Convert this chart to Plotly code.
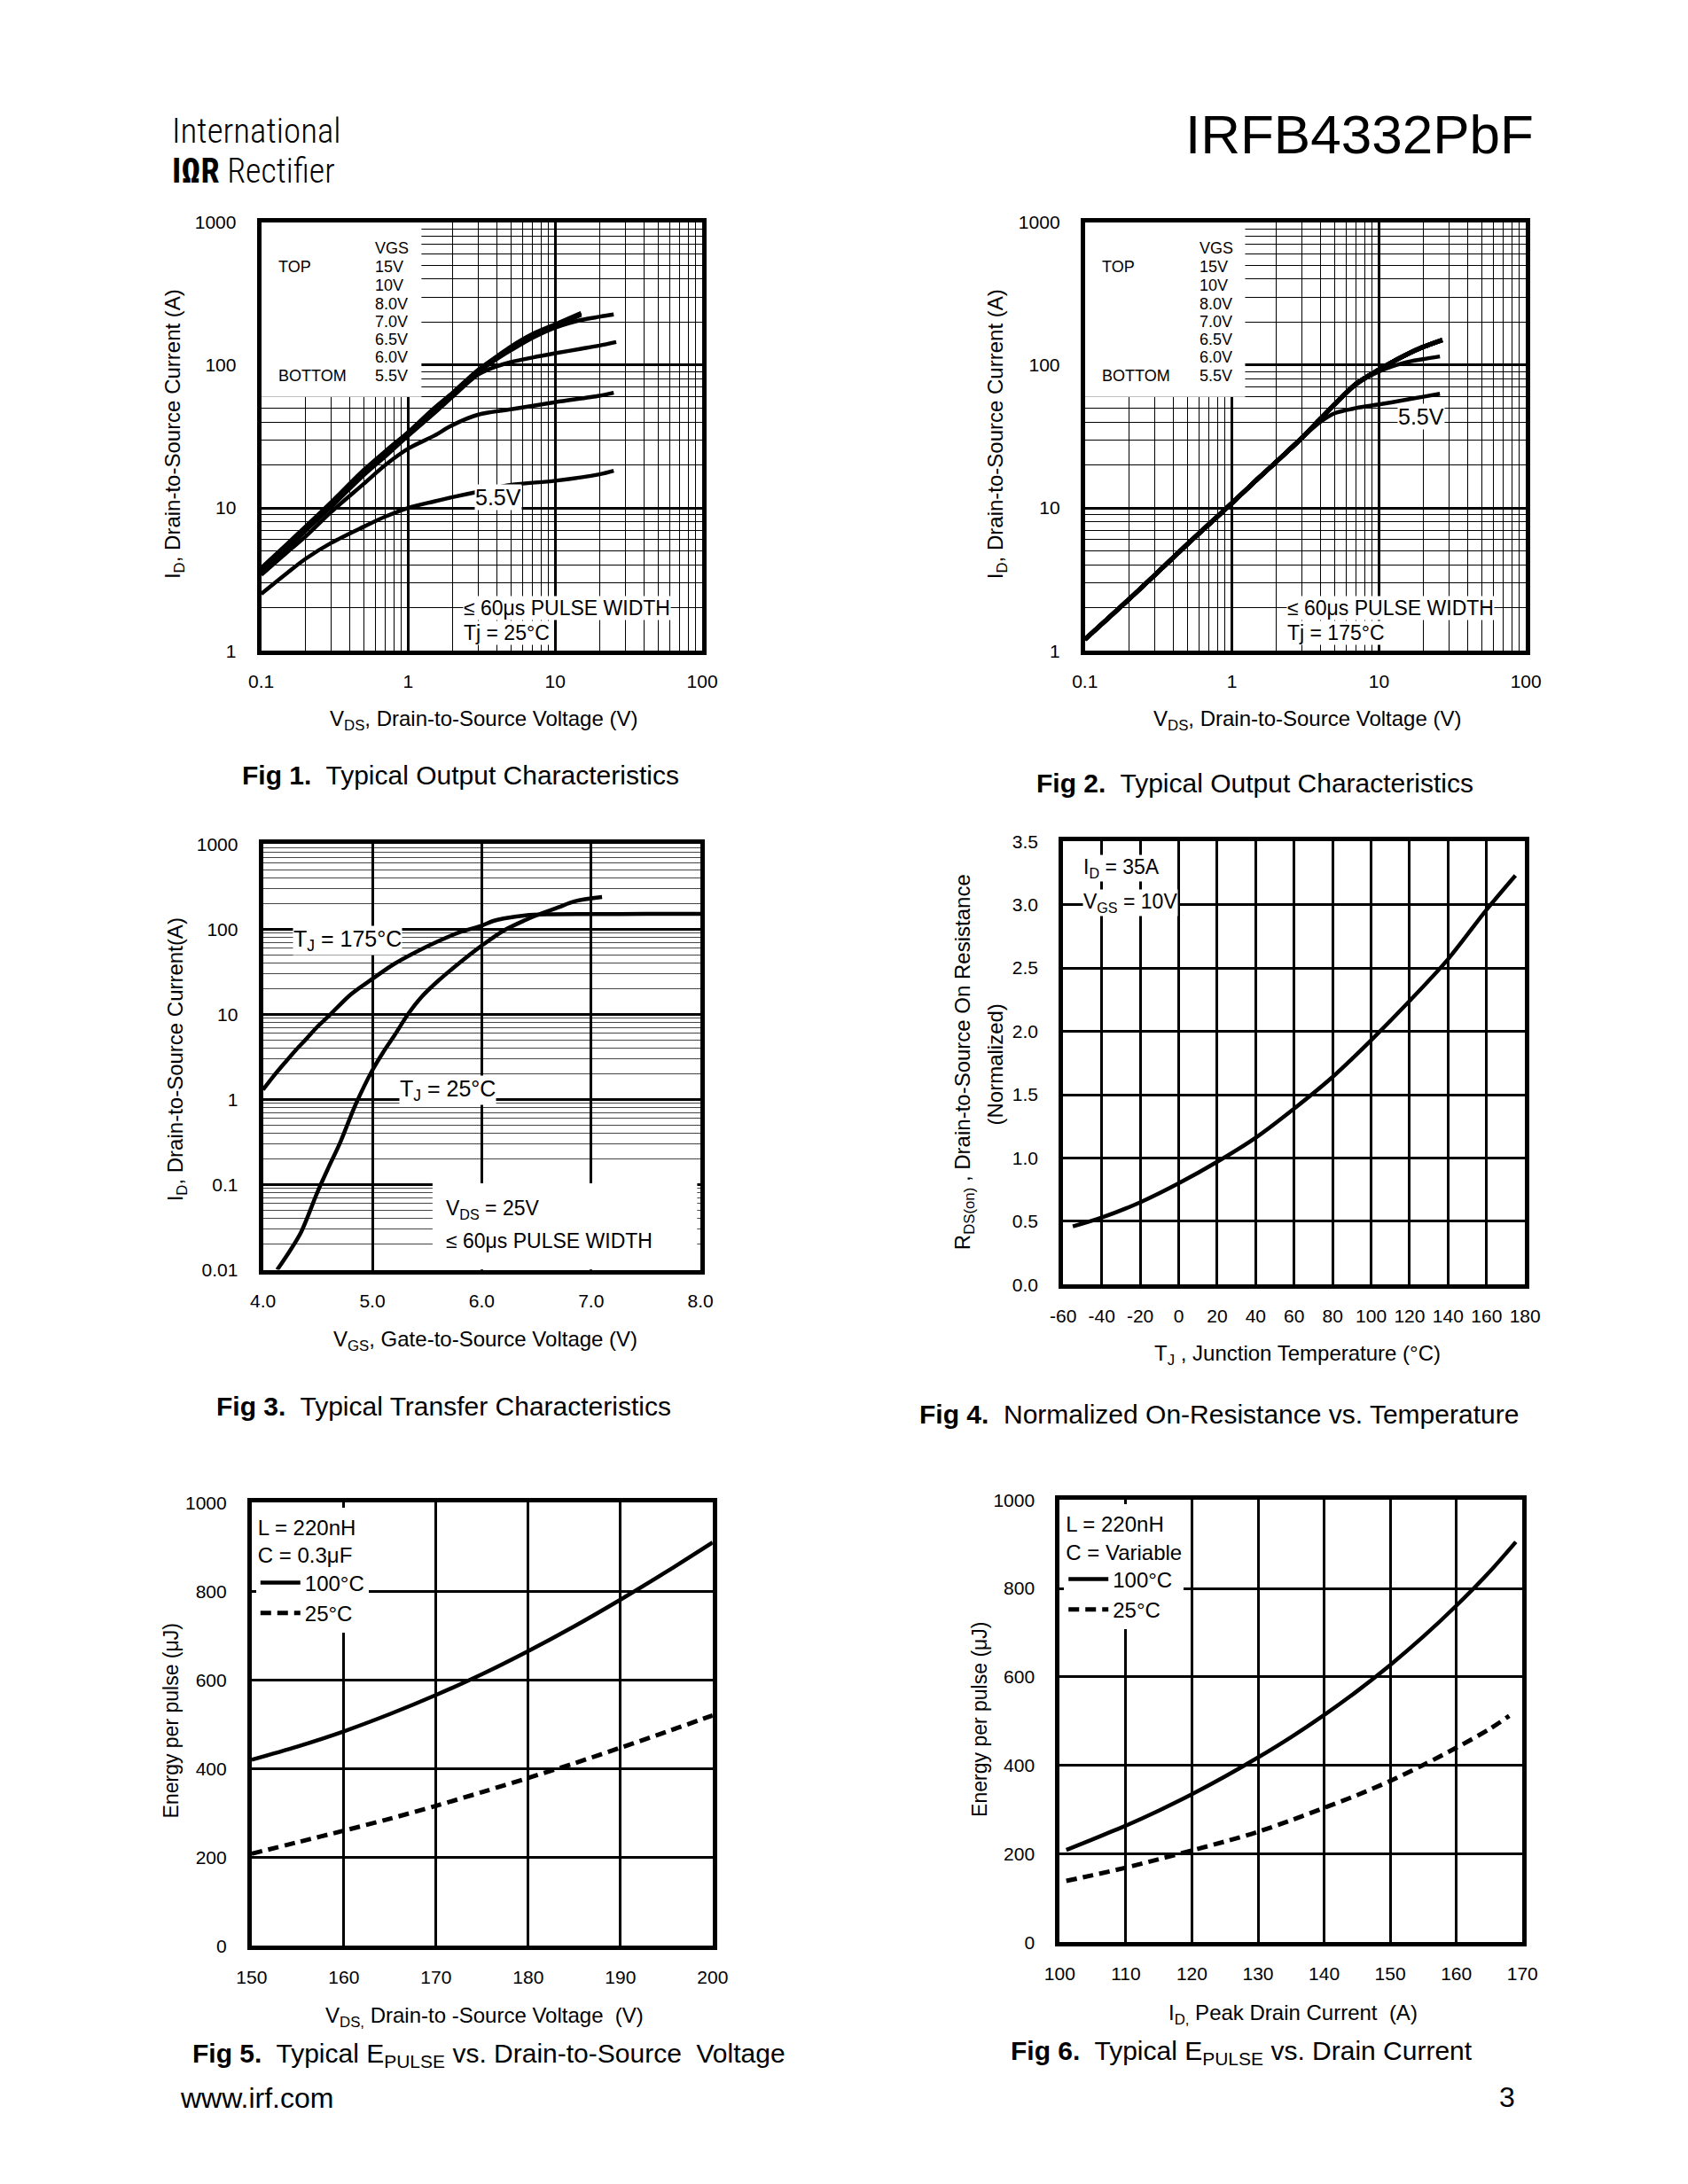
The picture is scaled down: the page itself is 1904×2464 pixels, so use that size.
import plotly.graph_objects as go

W, H = 1904, 2464
FONT = "Liberation Sans, Arial, Helvetica, sans-serif"

# ---------------- DATA ----------------
# Fig 1  (Tj = 25 C)  VDS [V] -> ID [A]
f1_vds_a = [0.1, 0.15, 0.2, 0.3, 0.5, 0.7, 1, 1.5, 2, 3, 4, 5, 7, 10, 15]
f1_id_15v = [3.8, 5.6, 7.4, 11.0, 18.5, 25, 34, 50, 64, 93, 115, 135, 165, 193, 232]
f1_id_10v = [3.7, 5.5, 7.3, 10.8, 18.0, 24.5, 33.5, 49, 63, 92, 114, 133, 163, 190, 228]
f1_id_8v = [3.6, 5.4, 7.1, 10.6, 17.6, 24, 33, 48, 62, 91, 112, 131, 160, 187, 225]
f1_vds_b = [0.1, 0.15, 0.2, 0.3, 0.5, 0.7, 1, 1.5, 2, 3, 4, 5, 7, 10, 15, 20, 25]
f1_id_7v = [3.5, 5.3, 7.0, 10.4, 17.3, 23.5, 32.5, 47, 61, 89, 110, 127, 155, 183, 207, 218, 226]
f1_vds_c = [0.1, 0.15, 0.2, 0.3, 0.5, 0.7, 1, 1.5, 2, 3, 4, 5, 7, 10, 15, 20, 26]
f1_id_6v5 = [3.5, 5.2, 6.9, 10.2, 17.0, 23, 32, 46, 60, 86, 98, 105, 113, 121, 130, 137, 145]
f1_vds_d = [0.1, 0.15, 0.2, 0.3, 0.5, 0.7, 1, 1.5, 2, 3, 5, 10, 20, 25]
f1_id_6v = [3.4, 4.9, 6.3, 9.4, 14.8, 20, 26, 32, 38, 45, 49, 55, 61, 64]
f1_id_5v5 = [2.5, 3.5, 4.4, 5.7, 7.4, 8.7, 10.0, 11.1, 11.9, 13.0, 14.5, 15.5, 17.2, 18.2]

# Fig 2  (Tj = 175 C)
f2_vds = [0.1, 0.2, 0.3, 0.5, 0.7, 1, 1.5, 2, 3, 4, 5, 7, 10, 15, 20, 27]
f2_id_top = [1.2, 2.3, 3.4, 5.6, 7.7, 10.8, 16, 21, 31, 42, 53, 74, 93, 117, 134, 150]
f2_vds_b = [0.1, 0.2, 0.3, 0.5, 0.7, 1, 1.5, 2, 3, 4, 5, 7, 10, 15, 20, 26]
f2_id_6v = [1.2, 2.3, 3.4, 5.6, 7.7, 10.8, 16, 21, 31, 42, 53, 73, 90, 104, 110, 115]
f2_id_5v5 = [1.2, 2.3, 3.4, 5.6, 7.7, 10.8, 16, 21, 31, 40, 46, 50, 53, 57, 60, 63]

# Fig 3  transfer  VGS [V] -> ID [A]
f3_vgs_175 = [4.0, 4.1, 4.2, 4.3, 4.4, 4.5, 4.6, 4.8, 5.0, 5.2, 5.4, 5.6, 5.8, 6.0, 6.1, 6.2, 6.4, 6.6, 7.0, 7.5, 8.0]
f3_id_175 = [1.3, 1.9, 2.7, 3.8, 5.2, 7.2, 9.5, 17, 26, 39, 54, 72, 92, 110, 124, 133, 145, 149, 150, 151, 151]
f3_vgs_25 = [4.13, 4.25, 4.35, 4.5, 4.6, 4.7, 4.85, 5.0, 5.1, 5.2, 5.33, 5.45, 5.6, 5.8, 6.0, 6.2, 6.4, 6.5, 6.7, 6.85, 7.1]
f3_id_25 = [0.01, 0.017, 0.028, 0.083, 0.16, 0.30, 0.89, 2.2, 3.6, 5.6, 10.2, 16, 24.6, 40.5, 64, 96, 128, 145, 180, 212, 238]

# Fig 4  normalized RDS(on) vs TJ
f4_tj = [-55, -40, -20, 0, 20, 40, 60, 80, 100, 120, 140, 160, 175]
f4_rds = [0.46, 0.53, 0.65, 0.80, 0.97, 1.16, 1.39, 1.64, 1.93, 2.24, 2.57, 2.96, 3.23]

# Fig 5  Epulse vs VDS
f5_vds = [150, 155, 160, 165, 170, 175, 180, 185, 190, 195, 200]
f5_e_100 = [420, 450, 484, 523, 566, 613, 665, 721, 781, 844, 910]
f5_e_25 = [208, 234, 260, 287, 316, 347, 379, 412, 447, 483, 520]

# Fig 6  Epulse vs ID
f6_id = [101, 105, 110, 115, 120, 125, 130, 135, 140, 145, 150, 155, 160, 165, 169]
f6_e_100 = [209, 233, 264, 298, 335, 375, 418, 464, 514, 568, 627, 691, 761, 837, 905]
f6_id_25 = [101, 105, 110, 115, 120, 125, 130, 135, 140, 145, 150, 155, 160, 165, 168]
f6_e_25 = [139, 152, 169, 188, 208, 228, 250, 276, 304, 333, 365, 401, 440, 482, 512]

# tick labels
log_ticks_x = [0.1, 1, 10, 100]
log_ticks_x_text = ["0.1", "1", "10", "100"]
log_ticks_y = [1, 10, 100, 1000]
log_ticks_y_text = ["1", "10", "100", "1000"]
f3_ticks_y = [0.01, 0.1, 1, 10, 100, 1000]
f3_ticks_y_text = ["0.01", "0.1", "1", "10", "100", "1000"]
f3_ticks_x = [4, 5, 6, 7, 8]
f3_ticks_x_text = ["4.0", "5.0", "6.0", "7.0", "8.0"]
f4_ticks_x = [-60, -40, -20, 0, 20, 40, 60, 80, 100, 120, 140, 160, 180]
f4_ticks_x_text = ["-60", "-40", "-20", "0", "20", "40", "60", "80", "100", "120", "140", "160", "180"]
f4_ticks_y = [0, 0.5, 1, 1.5, 2, 2.5, 3, 3.5]
f4_ticks_y_text = ["0.0", "0.5", "1.0", "1.5", "2.0", "2.5", "3.0", "3.5"]
f5_ticks_x = [150, 160, 170, 180, 190, 200]
f6_ticks_x = [100, 110, 120, 130, 140, 150, 160, 170]
e_ticks_y = [0, 200, 400, 600, 800, 1000]

# masks (data coords) hiding grid lines behind legend blocks
f1_legend_box_x = [0.1, 1.23]
f1_legend_box_y = [60, 1000]
f3_note_box_x = [5.55, 7.97]
f3_note_box_y = [0.01, 0.104]


def minor_log(lo_exp, hi_exp):
    return [k * 10 ** e for e in range(lo_exp, hi_exp) for k in range(2, 10)]


# ---------------- LAYOUT HELPERS ----------------
def px(x):
    return x / W


def py(y):
    return 1 - y / H


# panel pixel boxes: (left, right, top, bottom)
P = {
    1: (282, 789, 241, 729),
    2: (1229, 1736, 241, 729),
    3: (284, 787, 949, 1434),
    4: (1204, 1735, 946, 1451),
    5: (271, 801, 1699, 2204),
    6: (1200, 1732, 1696, 2200),
}

fig = go.Figure()

LW = 4.5


def add_line(i, x, y, name, dash="solid", width=LW, legend=None):
    xa = "x" if i == 1 else f"x{i}"
    ya = "y" if i == 1 else f"y{i}"
    kw = dict(showlegend=legend is not None)
    if legend:
        kw["legend"] = legend
    fig.add_trace(go.Scatter(
        x=x, y=y, mode="lines", name=name, xaxis=xa, yaxis=ya,
        line=dict(color="black", width=width, dash=dash, shape="spline", smoothing=0.9),
        hoverinfo="skip", **kw))


# Fig 1
add_line(1, f1_vds_a, f1_id_15v, "15V")
add_line(1, f1_vds_a, f1_id_10v, "10V")
add_line(1, f1_vds_a, f1_id_8v, "8.0V")
add_line(1, f1_vds_b, f1_id_7v, "7.0V")
add_line(1, f1_vds_c, f1_id_6v5, "6.5V")
add_line(1, f1_vds_d, f1_id_6v, "6.0V")
add_line(1, f1_vds_d, f1_id_5v5, "5.5V")
# Fig 2
for nm in ["15V", "10V", "8.0V", "7.0V", "6.5V"]:
    add_line(2, f2_vds, f2_id_top, nm, width=5)
add_line(2, f2_vds_b, f2_id_6v, "6.0V")
add_line(2, f2_vds_b, f2_id_5v5, "5.5V")
# Fig 3
add_line(3, f3_vgs_175, f3_id_175, "TJ = 175°C")
add_line(3, f3_vgs_25, f3_id_25, "TJ = 25°C")
# Fig 4
add_line(4, f4_tj, f4_rds, "RDS(on)")
# Fig 5
add_line(5, f5_vds, f5_e_100, "100°C", legend="legend")
add_line(5, f5_vds, f5_e_25, "25°C", dash="12px,7px", width=5, legend="legend")
# Fig 6
add_line(6, f6_id, f6_e_100, "100°C", legend="legend2")
add_line(6, f6_id_25, f6_e_25, "25°C", dash="12px,7px", width=5, legend="legend2")

base = dict(showline=True, mirror=True, linecolor="black", linewidth=5, ticks="",
            showgrid=True, gridcolor="black", zeroline=False, fixedrange=True,
            tickfont=dict(family=FONT, size=21, color="black"))


def dom(i):
    l, r, t, b = P[i]
    return [px(l), px(r)], [py(b), py(t)]


layout_axes = {}
for i in range(1, 7):
    xd, yd = dom(i)
    xn = "xaxis" if i == 1 else f"xaxis{i}"
    yn = "yaxis" if i == 1 else f"yaxis{i}"
    xa = dict(base, domain=xd, anchor="y" if i == 1 else f"y{i}", ticklabelstandoff=12)
    ya = dict(base, domain=yd, anchor="x" if i == 1 else f"x{i}", ticklabelstandoff=19)
    if i in (1, 2):
        xa.update(type="log", range=[-1, 2], tickvals=log_ticks_x, ticktext=log_ticks_x_text,
                  gridwidth=3,
                  minor=dict(tickvals=minor_log(-1, 2), showgrid=True, gridcolor="black",
                             gridwidth=1.3))
        ya.update(type="log", range=[0, 3], tickvals=log_ticks_y, ticktext=log_ticks_y_text,
                  gridwidth=3,
                  minor=dict(tickvals=minor_log(0, 3), showgrid=True, gridcolor="black",
                             gridwidth=1.3))
    elif i == 3:
        xa.update(range=[4, 8], tickvals=f3_ticks_x, ticktext=f3_ticks_x_text, gridwidth=3)
        ya.update(type="log", range=[-2, 3], tickvals=f3_ticks_y, ticktext=f3_ticks_y_text,
                  gridwidth=3,
                  minor=dict(tickvals=minor_log(-2, 3), showgrid=True, gridcolor="#444",
                             gridwidth=1.2))
    elif i == 4:
        xa.update(range=[-60, 180], tickvals=f4_ticks_x, ticktext=f4_ticks_x_text, gridwidth=2.5)
        ya.update(range=[0, 3.5], tickvals=f4_ticks_y, ticktext=f4_ticks_y_text, gridwidth=2.5)
    elif i == 5:
        xa.update(range=[150, 200], tickvals=f5_ticks_x, gridwidth=2.5)
        ya.update(range=[0, 1000], tickvals=e_ticks_y, gridwidth=2.5)
    else:
        xa.update(range=[100, 170], tickvals=f6_ticks_x, gridwidth=2.5)
        ya.update(range=[0, 1000], tickvals=e_ticks_y, gridwidth=2.5)
    layout_axes[xn] = xa
    layout_axes[yn] = ya


def mask(xr, yr, bx, by):
    return dict(type="rect", xref=xr, yref=yr, x0=bx[0], x1=bx[1], y0=by[0], y1=by[1],
                fillcolor="white", line=dict(width=0), layer="between")


shapes = [
    mask("x", "y", f1_legend_box_x, f1_legend_box_y),
    mask("x2", "y2", f1_legend_box_x, f1_legend_box_y),
    mask("x3", "y3", f3_note_box_x, f3_note_box_y),
]

annotations = []


def ann(text, x, y, size, xanchor="center", yanchor="middle", angle=0, bg=None, family=FONT,
        weight=None):
    f = dict(family=family, size=size, color="black")
    if weight:
        f["weight"] = weight
    d = dict(text=text, x=px(x), y=py(y), xref="paper", yref="paper", showarrow=False,
             xanchor=xanchor, yanchor=yanchor, textangle=angle, font=f)
    if bg:
        d.update(bgcolor=bg, borderpad=0)
    annotations.append(d)


# header
LOGO_FONT = "Liberation Sans Narrow, Roboto Condensed, Liberation Sans, sans-serif"
ann("International", 177, 137, 39, xanchor="left", family=LOGO_FONT, weight=300)
ann("<b>IΩR</b> Rectifier", 177, 183, 38, xanchor="left", family=LOGO_FONT, weight=300)
ann("IRFB4332PbF", 1747, 141, 62, xanchor="right")

# Fig 1 / Fig 2 legend blocks
rows_y = [271, 292, 313, 334, 354, 375, 395, 416]
vgs_labels = ["VGS", "15V", "10V", "8.0V", "7.0V", "6.5V", "6.0V", "5.5V"]
for left_a, left_b in ((300, 411), (1247, 1359)):
    ann("TOP", left_a, rows_y[1], 18, xanchor="left")
    ann("BOTTOM", left_a, rows_y[-1], 18, xanchor="left")
    for t, yy in zip(vgs_labels, rows_y):
        ann(t, left_b, yy, 18, xanchor="left")

ann("5.5V", 554, 554, 25, bg="white")
ann("5.5V", 1616, 462, 25, bg="white")
ann("≤ 60μs PULSE WIDTH", 514, 680, 23, xanchor="left", bg="white")
ann("Tj = 25°C", 514, 709, 23, xanchor="left", bg="white")
ann("≤ 60μs PULSE WIDTH", 1461, 680, 23, xanchor="left", bg="white")
ann("Tj = 175°C", 1461, 709, 23, xanchor="left", bg="white")

# axis titles
ann("V<sub>DS</sub>, Drain-to-Source Voltage (V)", 538, 808, 24)
ann("V<sub>DS</sub>, Drain-to-Source Voltage (V)", 1485, 808, 24)
ann("I<sub>D</sub>, Drain-to-Source Current (A)", 182, 482, 24, angle=-90)
ann("I<sub>D</sub>, Drain-to-Source Current (A)", 1128, 482, 24, angle=-90)
ann("V<sub>GS</sub>, Gate-to-Source Voltage (V)", 540, 1515, 24)
ann("I<sub>D</sub>, Drain-to-Source Current(A)", 185, 1195, 24, angle=-90)
ann("T<sub>J</sub> , Junction Temperature (°C)", 1473, 1531, 24)
ann("R<sub>DS(on)</sub> , Drain-to-Source On Resistance", 1090, 1197, 24, angle=-90)
ann("(Normalized)", 1126, 1200, 24, angle=-90)
ann("V<sub>DS,</sub> Drain-to -Source Voltage  (V)", 539, 2285, 24)
ann("Energy per pulse (μJ)", 178, 1948, 23, angle=-90)
ann("I<sub>D,</sub> Peak Drain Current  (A)", 1468, 2282, 24)
ann("Energy per pulse (μJ)", 1108, 1946, 23, angle=-90)

# in-plot labels fig 3 / fig 4
ann("T<sub>J</sub> = 175°C", 318, 1059, 25, xanchor="left", bg="white")
ann("T<sub>J</sub> = 25°C", 440, 1229, 25, xanchor="left", bg="white")
ann("V<sub>DS</sub> = 25V", 492, 1365, 23, xanchor="left")
ann("≤ 60μs PULSE WIDTH", 492, 1401, 23, xanchor="left")
ann("I<sub>D</sub> = 35A", 1226, 977, 23, xanchor="left", bg="white")
ann("V<sub>GS</sub> = 10V", 1226, 1016, 23, xanchor="left", bg="white")

# captions
SP = "\u00a0 "
ann("<b>Fig 1.</b>" + SP + "Typical Output Characteristics", 511, 871, 30)
ann("<b>Fig 2.</b>" + SP + "Typical Output Characteristics", 1424, 880, 30)
ann("<b>Fig 3.</b>" + SP + "Typical Transfer Characteristics", 492, 1589, 30)
ann("<b>Fig 4.</b>" + SP + "Normalized On-Resistance vs. Temperature", 1383, 1598, 30)
ann("<b>Fig 5.</b>" + SP + "Typical E<sub>PULSE</sub> vs. Drain-to-Source" + SP + "Voltage", 544, 2328, 30)
ann("<b>Fig 6.</b>" + SP + "Typical E<sub>PULSE</sub> vs. Drain Current", 1409, 2325, 30)

# footer
ann("www.irf.com", 187, 2377, 32, xanchor="left")
ann("3", 1726, 2376, 32, xanchor="right")

legend_common = dict(xanchor="left", yanchor="top", bgcolor="white", borderwidth=0,
                     font=dict(family=FONT, size=24, color="black"), itemwidth=45,
                     tracegroupgap=0)

fig.update_layout(
    width=W, height=H, margin=dict(l=0, r=0, t=0, b=0),
    paper_bgcolor="white", plot_bgcolor="white",
    font=dict(family=FONT, color="black"),
    shapes=shapes, annotations=annotations,
    legend=dict(legend_common, x=px(276), y=py(1705),
                title=dict(text="L = 220nH<br>C = 0.3μF", font=dict(family=FONT, size=24))),
    legend2=dict(legend_common, x=px(1205), y=py(1701),
                 title=dict(text="L = 220nH<br>C = Variable", font=dict(family=FONT, size=24))),
    **layout_axes,
)

fig.write_html("out.html", config={"displayModeBar": False},
               post_script="document.body.style.margin='0';document.body.style.padding='0';")
